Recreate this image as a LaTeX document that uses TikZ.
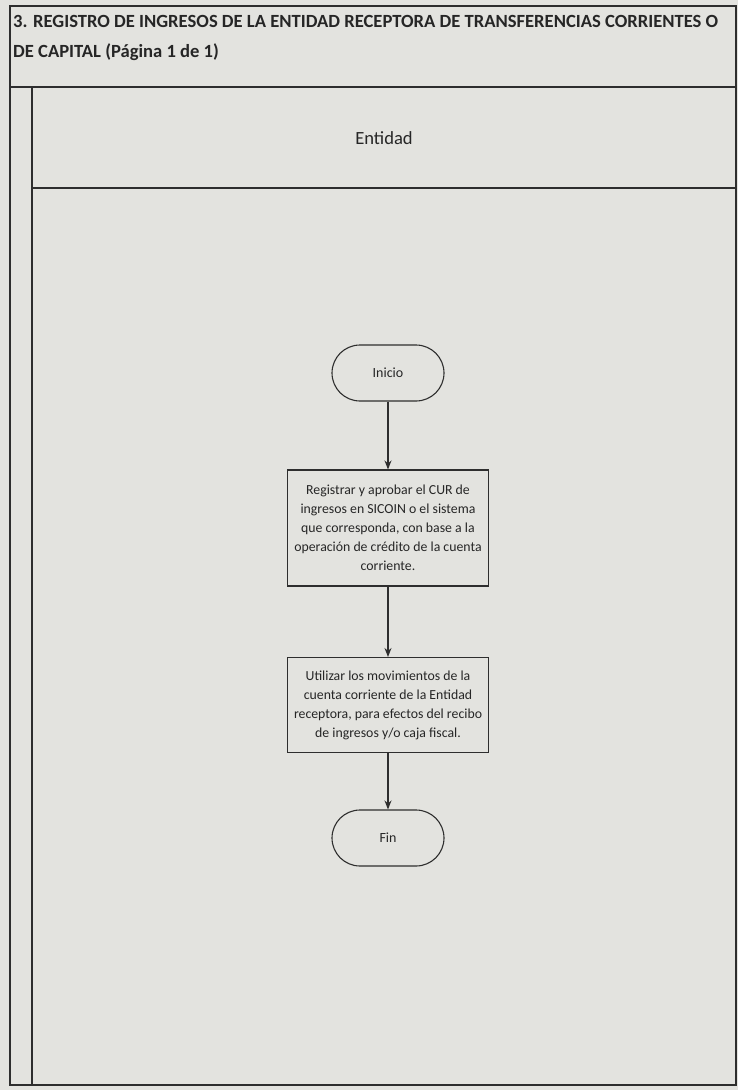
\documentclass[tikz,border=0pt]{standalone}
\usepackage{fontspec}
\setmainfont{Carlito}
\usetikzlibrary{arrows.meta, positioning}
\definecolor{paperbg}{HTML}{E3E3DF}
\definecolor{inkline}{HTML}{2E2E2E}
\definecolor{inktext}{HTML}{262626}
\tikzset{
  flowstep/.style  = {draw=inkline, line width=1.1pt, text=inktext, align=center,
                      font=\fontsize{13.8}{19}\selectfont, minimum width=201pt, inner sep=2pt},
  flowterm/.style  = {flowstep, rounded corners=28pt, minimum width=112pt, minimum height=56pt},
  flow/.style      = {-{Stealth[length=9pt, width=7pt]}, line width=1.1pt, draw=inkline},
  frameline/.style = {draw=inkline, line width=1.3pt},
}

\begin{document}
\begin{tikzpicture}[x=1pt, y=-1pt]
                \fill[paperbg] (0,0) rectangle (738,1090);
                \useasboundingbox (0,0) rectangle (738,1090);
                \draw[frameline] (10,6) rectangle (736,1085);
                \draw[frameline] (10,87) -- (736,87);
                \draw[frameline] (32,87) -- (32,1085);
                \draw[frameline] (32,188) -- (736,188);
                \node[anchor=north west, align=left, inner sep=0pt, text=inktext,
                    font=\bfseries\fontsize{18.6}{30}\selectfont] (title) at (13,15)
                    {3. REGISTRO DE INGRESOS DE LA ENTIDAD RECEPTORA DE TRANSFERENCIAS CORRIENTES O\\
                     DE CAPITAL (Página 1 de 1)};
                \node[text=inktext, font=\fontsize{18.6}{20}\selectfont] (lane) at (384,138) {Entidad};
                \node[flowterm, font=\fontsize{14}{19}\selectfont] (inicio) at (388,373) {Inicio};
                \node[flowstep, minimum height=116pt] (registro) at (388,528)
                    {Registrar y aprobar el CUR de\\ ingresos en SICOIN o el sistema\\
                     que corresponda, con base a la\\ operación de crédito de la cuenta\\ corriente.};
                \node[flowstep, minimum height=95pt] (movimientos) at (388,705)
                    {Utilizar los movimientos de la\\ cuenta corriente de la Entidad\\
                     receptora, para efectos del recibo\\ de ingresos y/o caja fiscal.};
                \node[flowterm, font=\fontsize{14}{19}\selectfont] (fin) at (388,838) {Fin};
                \draw[flow] (inicio) -- (registro);
                \draw[flow] (registro) -- (movimientos);
                \draw[flow] (movimientos) -- (fin);
\end{tikzpicture}
\end{document}
